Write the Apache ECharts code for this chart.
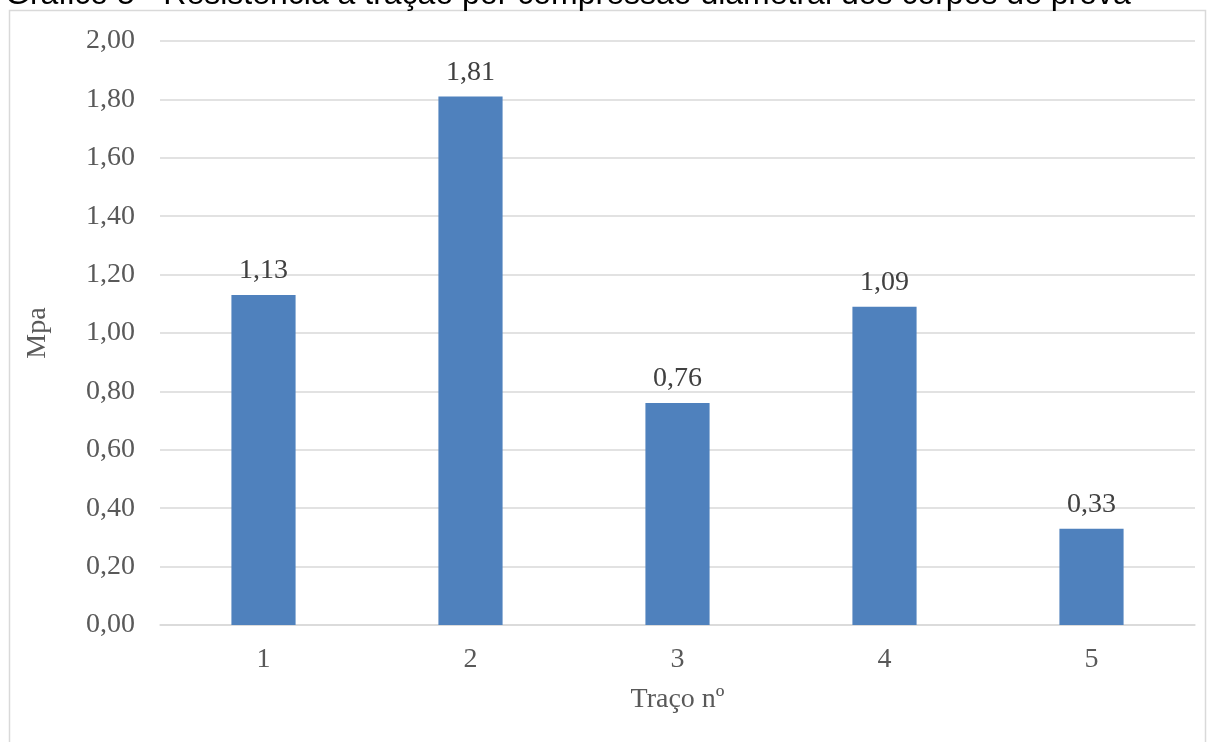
<!DOCTYPE html>
<html>
<head>
<meta charset="utf-8">
<script src="https://cdn.jsdelivr.net/npm/echarts@6/dist/echarts.min.js"></script>
<style>
html,body{margin:0;padding:0;background:#fff;}
#chart{width:1212px;height:742px;}
</style>
</head>
<body>
<div id="chart"></div>
<script>
const titleText = 'Gráfico 5 - Resistência à tração por compressão diametral dos corpos de prova';
const categories = ['1', '2', '3', '4', '5'];
const values = [1.13, 1.81, 0.76, 1.09, 0.33];
const yAxisName = 'Mpa';
const xAxisName = 'Traço nº';

const chart = echarts.init(document.getElementById('chart'), null, {renderer: 'canvas'});
const fmt = v => v.toFixed(2).replace('.', ',');
chart.setOption({
  animation: false,
  backgroundColor: '#fff',
  graphic: [
    {type: 'rect', shape: {x: 9.5, y: 10.5, width: 1196, height: 800}, style: {fill: 'none', stroke: '#D9D9D9', lineWidth: 1.5}, z: 0},
    {type: 'text', x: 5, y: 11, style: {text: titleText, font: '32px "Liberation Sans", Arial, sans-serif', fill: '#000', textVerticalAlign: 'bottom'}, z: 10}
  ],
  grid: {left: 160, right: 17, top: 41, bottom: 117, containLabel: false},
  xAxis: {
    type: 'category',
    data: categories,
    name: xAxisName,
    nameLocation: 'middle',
    nameGap: 61,
    nameTextStyle: {fontFamily: 'Liberation Serif', fontSize: 28, color: '#595959'},
    axisLine: {lineStyle: {color: '#D9D9D9', width: 1.5}},
    axisTick: {show: false},
    axisLabel: {fontFamily: 'Liberation Serif', fontSize: 28, color: '#595959', margin: 21}
  },
  yAxis: {
    type: 'value',
    min: 0, max: 2, interval: 0.2,
    name: yAxisName,
    nameLocation: 'middle',
    nameGap: 108,
    nameTextStyle: {fontFamily: 'Liberation Serif', fontSize: 28, color: '#595959'},
    axisLine: {show: false},
    axisTick: {show: false},
    splitLine: {lineStyle: {color: '#D9D9D9', width: 1.5}},
    axisLabel: {fontFamily: 'Liberation Serif', fontSize: 28, color: '#595959', margin: 25, formatter: v => fmt(v)}
  },
  series: [{
    type: 'bar',
    data: values,
    barWidth: '31%',
    itemStyle: {color: '#4F81BD'},
    label: {show: true, position: 'top', distance: 10, fontFamily: 'Liberation Serif', fontSize: 28, color: '#404040', formatter: p => fmt(p.value)}
  }]
});
</script>
</body>
</html>
